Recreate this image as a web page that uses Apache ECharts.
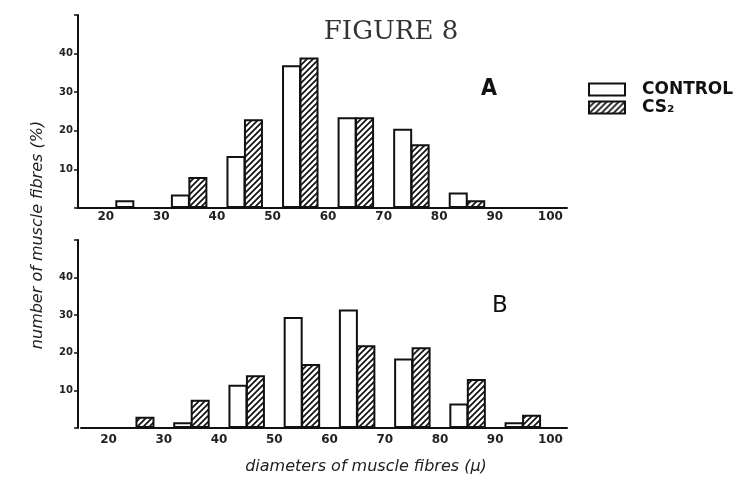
<!DOCTYPE html>
<html>
<head>
<meta charset="utf-8">
<script src="https://cdn.jsdelivr.net/npm/echarts@6/dist/echarts.min.js"></script>
<style>
html,body{margin:0;padding:0;background:#fff;}
#chart{width:736px;height:486px;}
</style>
</head>
<body>
<div id="chart"></div>
<script>
// Data: bins of fibre diameter (µ), centre of each 10-µ bin
const binCenters = [25, 35, 45, 55, 65, 75, 85, 95];
const xTickLabels = [20, 30, 40, 50, 60, 70, 80, 90, 100];
const yTickLabels = [10, 20, 30, 40];
// Panel A (%)
const aControl = [2, 3.5, 13.5, 37, 23.5, 20.5, 4, null];
const aCS2     = [null, 8, 23, 39, 23.5, 16.5, 2, null];
// Panel B (%)
const bControl = [null, 1.5, 11.5, 29.5, 31.5, 18.5, 6.5, 1.5];
const bCS2     = [3, 7.5, 14, 17, 22, 21.5, 13, 3.5];

function pairs(vals){ return binCenters.map((c,i)=>[c, vals[i]]); }

// hatch pattern
const tile = document.createElement('canvas');
tile.width = 6; tile.height = 6;
const ctx = tile.getContext('2d');
ctx.fillStyle = '#fff'; ctx.fillRect(0,0,6,6);
ctx.strokeStyle = '#111'; ctx.lineWidth = 1.7;
ctx.beginPath();
ctx.moveTo(-1,7); ctx.lineTo(7,-1);
ctx.moveTo(-4,4); ctx.lineTo(4,-4);
ctx.moveTo(2,10); ctx.lineTo(10,2);
ctx.stroke();
const hatch = {image: tile, repeat: 'repeat'};

const chart = echarts.init(document.getElementById('chart'), null, {renderer:'canvas'});

const xFmt = v => (xTickLabels.indexOf(v) >= 0 ? String(v) : '');
const yFmt = v => (yTickLabels.indexOf(v) >= 0 ? String(v) : '');

function xAxisCfg(gridIndex, margin){
  return {
    type:'value', gridIndex, min:15, max:103, interval:5,
    axisLine:{show:true, lineStyle:{color:'#111', width:2}},
    axisTick:{show:false}, splitLine:{show:false},
    axisLabel:{formatter:xFmt, color:'#222', fontSize:12, fontWeight:'bold',
      fontFamily:'DejaVu Sans', margin, showMinLabel:true, showMaxLabel:false}
  };
}
function yAxisCfg(gridIndex, offset){
  return {
    type:'value', gridIndex, min:0, max:50, interval:10, offset,
    axisLine:{show:true, lineStyle:{color:'#111', width:2}},
    axisTick:{show:true, length:4, lineStyle:{color:'#111', width:1.5}},
    splitLine:{show:false},
    axisLabel:{formatter:yFmt, color:'#222', fontSize:10, fontWeight:'bold',
      fontFamily:'DejaVu Sans', margin:5}
  };
}
const ctrlStyle = {color:'#fff', borderColor:'#111', borderWidth:2};
const cs2Style = {color:hatch, borderColor:'#111', borderWidth:2};

function bar(name, data, idx, style){
  return {name, type:'bar', xAxisIndex:idx, yAxisIndex:idx, data:pairs(data),
    barWidth:19, barGap:'-8%', itemStyle:style, silent:true, animation:false};
}

chart.setOption({
  animation:false,
  backgroundColor:'#fff',
  grid:[
    {left:78, top:15, width:489, height:193},
    {left:81, top:240, width:486, height:188}
  ],
  xAxis:[xAxisCfg(0,3), xAxisCfg(1,6)],
  yAxis:[yAxisCfg(0,0), yAxisCfg(1,3)],
  legend:{
    left:588, top:81, orient:'vertical', itemWidth:36, itemHeight:12, itemGap:1,
    padding:0, icon:'rect', selectedMode:false,
    itemStyle:{borderColor:'#111', borderWidth:2},
    textStyle:{fontFamily:'DejaVu Sans', fontWeight:'bold', fontSize:17, color:'#111',
      lineHeight:16, padding:[0,0,0,12]},
    data:['CONTROL','CS₂']
  },
  series:[
    bar('CONTROL', aControl, 0, ctrlStyle),
    bar('CS₂', aCS2, 0, cs2Style),
    bar('CONTROL', bControl, 1, ctrlStyle),
    bar('CS₂', bCS2, 1, cs2Style)
  ],
  graphic:[
    {type:'text', style:{text:'FIGURE 8', x:391, y:32, align:'center', verticalAlign:'middle',
      font:'26px "DejaVu Serif", serif', fill:'#333'}},
    {type:'text', style:{text:'A', x:489, y:89, align:'center', verticalAlign:'middle',
      font:'bold 23px "DejaVu Sans Condensed", "DejaVu Sans"', fill:'#111'}},
    {type:'text', style:{text:'B', x:500, y:306, align:'center', verticalAlign:'middle',
      font:'23px "DejaVu Sans"', fill:'#111'}},
    {type:'text', x:38, y:235, rotation:Math.PI/2,
      style:{text:'number of muscle fibres (%)', x:0, y:0, align:'center', verticalAlign:'middle',
      font:'italic 16px "DejaVu Sans"', fill:'#222'}},
    {type:'text', style:{text:'diameters of muscle fibres (µ)', x:366, y:467, align:'center', verticalAlign:'middle',
      font:'italic 16px "DejaVu Sans"', fill:'#222'}}
  ]
});
</script>
</body>
</html>
